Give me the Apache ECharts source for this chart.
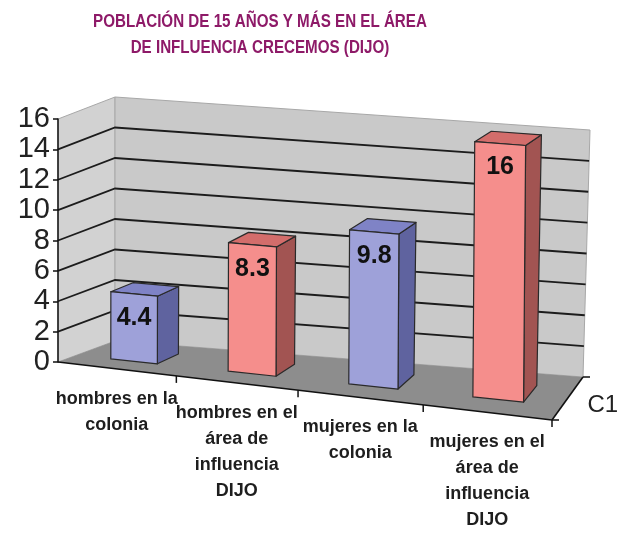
<!DOCTYPE html>
<html><head><meta charset="utf-8">
<script src="https://cdn.jsdelivr.net/npm/echarts/dist/echarts.min.js"></script>
<style>html,body{margin:0;padding:0;background:#fff}#c{width:620px;height:533px}</style>
</head><body><div id="c"></div>
<script>
// ---------- data ----------
const titleLines = ['POBLACIÓN DE 15 AÑOS Y MÁS EN EL ÁREA', 'DE INFLUENCIA CRECEMOS (DIJO)'];
const categories = ['hombres en la\ncolonia', 'hombres en el\nárea de\ninfluencia\nDIJO', 'mujeres en la\ncolonia', 'mujeres en el\nárea de\ninfluencia\nDIJO'];
const values = [4.4, 8.3, 9.8, 16];
const valueLabels = ['4.4', '8.3', '9.8', '16'];
const yTicks = [0, 2, 4, 6, 8, 10, 12, 14, 16];
const seriesName = 'C1';

// ---------- styles / layout ----------
const yMax = yTicks[yTicks.length - 1];
const PERSP = 1.058;
const FACES = [
  { front: '#9ea1d9', top: '#7f83c6', side: '#5f639f' },
  { front: '#f58e8c', top: '#d36d6b', side: '#a25452' }
];
const EDGE = '#2a2a2a';
const SANS = "'Liberation Sans', Arial, sans-serif";

function projector(api) {
  const o = api.coord([0, 0]);
  const e = api.coord([categories.length, yMax]);
  const C = {
    FBL: o, FTL: [o[0], e[1]],
    FBR: [e[0], o[1] + 58], FTR: [e[0], e[1] + 38],
    BBL: [o[0] + 57, o[1] - 21], BTL: [o[0] + 57, e[1] - 22],
    BBR: [e[0] + 31, o[1] + 15], BTR: [e[0] + 38, e[1] + 11]
  };
  const L = (a, b, t) => [a[0] + (b[0] - a[0]) * t, a[1] + (b[1] - a[1]) * t];
  return function (u, v, w) {
    let s = (api.coord([u, 0])[0] - o[0]) / (e[0] - o[0]);
    s = s / (PERSP + (1 - PERSP) * s);
    const t = (o[1] - api.coord([0, v])[1]) / (o[1] - e[1]);
    const bot = L(L(C.FBL, C.FBR, s), L(C.BBL, C.BBR, s), w);
    const top = L(L(C.FTL, C.FTR, s), L(C.BTL, C.BTR, s), w);
    return L(bot, top, t);
  };
}

function renderFrame(params, api) {
  const P = projector(api);
  const N = categories.length;
  const ch = [];
  ch.push({ type: 'polygon', shape: { points: [P(0, 0, 0), P(0, 0, 1), P(0, yMax, 1), P(0, yMax, 0)] },
    style: { fill: '#d2d2d2', stroke: '#a8a8a8', lineWidth: 1 } });
  ch.push({ type: 'polygon', shape: { points: [P(0, 0, 1), P(N, 0, 1), P(N, yMax, 1), P(0, yMax, 1)] },
    style: { fill: '#c9c9c9', stroke: '#a8a8a8', lineWidth: 1 } });
  ch.push({ type: 'polygon', shape: { points: [P(0, 0, 0), P(N, 0, 0), P(N, 0, 1), P(0, 0, 1)] },
    style: { fill: '#8d8d8d', stroke: null } });
  yTicks.forEach(v => {
    if (v <= 0 || v >= yMax) return;
    ch.push({ type: 'polyline', shape: { points: [P(0, v, 0), P(0, v, 1), P(N, v, 1)] },
      style: { stroke: '#1c1c1c', lineWidth: 1.8, fill: null } });
  });
  ch.push({ type: 'line', shape: { x1: P(0, 0, 0)[0], y1: P(0, 0, 0)[1], x2: P(N, 0, 0)[0], y2: P(N, 0, 0)[1] },
    style: { stroke: '#111', lineWidth: 1.6 } });
  for (let i = 1; i <= N; i++) {
    const p = P(i, 0, 0);
    ch.push({ type: 'line', shape: { x1: p[0], y1: p[1], x2: p[0], y2: p[1] + 7 }, style: { stroke: '#111', lineWidth: 1.5 } });
  }
  const a = P(N, 0, 0), b = P(N, 0, 1);
  ch.push({ type: 'line', shape: { x1: a[0], y1: a[1], x2: b[0], y2: b[1] }, style: { stroke: '#111', lineWidth: 1.6 } });
  [a, b].forEach(p => ch.push({ type: 'line', shape: { x1: p[0], y1: p[1], x2: p[0] + 7, y2: p[1] }, style: { stroke: '#111', lineWidth: 1.5 } }));
  const m = P(N, 0, 0.5);
  ch.push({ type: 'text', style: { text: seriesName, x: m[0] + 20, y: m[1] + 7, align: 'left', verticalAlign: 'middle',
    font: '24px ' + SANS, fill: '#222' } });
  categories.forEach((c, i) => {
    const p = P(i + 0.5, 0, 0);
    ch.push({ type: 'text', style: { text: c, x: p[0], y: p[1] + 17, align: 'center', verticalAlign: 'top',
      font: 'bold 18px ' + SANS, lineHeight: 26, fill: '#1e1e1e' } });
  });
  return { type: 'group', children: ch };
}

function renderBar(params, api) {
  const P = projector(api);
  const i = api.value(0), v = api.value(1);
  const u0 = i + 0.3, u1 = i + 0.7, w0 = 0.32, w1 = 0.72;
  const f = FACES[i % 2];
  const st = (fill) => ({ fill: fill, stroke: EDGE, lineWidth: 1.2, lineJoin: 'round' });
  const front = [P(u0, 0, w0), P(u1, 0, w0), P(u1, v, w0), P(u0, v, w0)];
  const side = [P(u1, 0, w0), P(u1, 0, w1), P(u1, v, w1), P(u1, v, w0)];
  const top = [P(u0, v, w0), P(u1, v, w0), P(u1, v, w1), P(u0, v, w1)];
  const lp = P((u0 + u1) / 2, v, w0);
  return { type: 'group', children: [
    { type: 'polygon', shape: { points: side }, style: st(f.side) },
    { type: 'polygon', shape: { points: top }, style: st(f.top) },
    { type: 'polygon', shape: { points: front }, style: st(f.front) },
    { type: 'text', style: { text: valueLabels[i], x: lp[0], y: lp[1] + 24, align: 'center', verticalAlign: 'middle',
      font: 'bold 25px ' + SANS, fill: '#111' } }
  ] };
}

const chart = echarts.init(document.getElementById('c'), null, { renderer: 'canvas' });
chart.setOption({
  animation: false,
  backgroundColor: '#fff',
  graphic: titleLines.map((t, k) => ({
    type: 'text', x: 260, y: 22 + k * 25.5, scaleX: 0.82, z: 10,
    style: { text: t, font: 'bold 18.5px ' + SANS, fill: '#8e1a68', align: 'center', verticalAlign: 'middle' }
  })),
  grid: { left: 58, top: 119, right: 68, bottom: 171, containLabel: false, outerBoundsMode: 'none' },
  xAxis: { type: 'value', min: 0, max: categories.length, show: false },
  yAxis: {
    type: 'value', min: 0, max: yMax, interval: 2, z: 10,
    axisLine: { show: true, lineStyle: { color: '#111', width: 1.5 } },
    axisTick: { show: true, length: 5, lineStyle: { color: '#111', width: 1.5 } },
    axisLabel: { fontSize: 29, fontFamily: SANS, color: '#222', margin: 8 },
    splitLine: { show: false }
  },
  series: [
    { type: 'custom', name: 'frame', silent: true, z: 1, data: [[0, 0]], renderItem: renderFrame, clip: false },
    { type: 'custom', name: seriesName, silent: true, z: 3, data: values.map((v, i) => [i, v]), renderItem: renderBar, clip: false }
  ]
});
</script></body></html>
